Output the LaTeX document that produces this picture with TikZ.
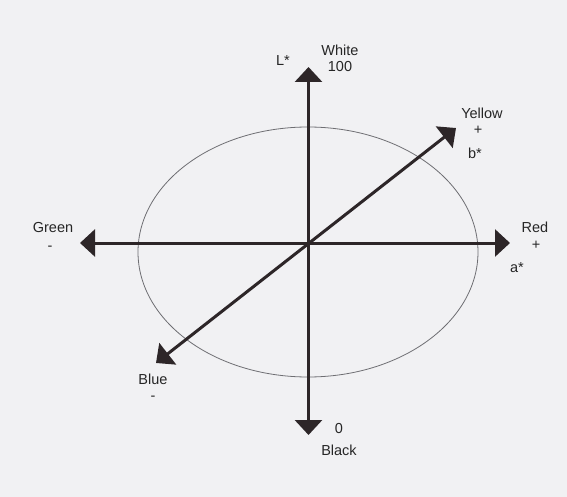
\documentclass[tikz,border=0pt]{standalone}
\usepackage{fontspec}
\setmainfont{Liberation Sans}
\usetikzlibrary{arrows.meta,shapes.geometric}
\definecolor{bgc}{HTML}{F1F1F3}
\definecolor{axc}{HTML}{2D2628}
\definecolor{elc}{HTML}{6E6E72}
\tikzset{
  axis/.style={draw=axc, line width=3pt, {Triangle[length=15pt,width=27pt]}-{Triangle[length=15pt,width=27pt]}},
  lab/.style={inner sep=0pt, text=black!85, font=\fontsize{14.5}{17}\selectfont},
  ring/.style={draw=elc, line width=0.8pt}
}
\begin{document}
\begin{tikzpicture}[x=1pt,y=-1pt]
\path[fill=bgc] (0,0) rectangle (567,497);
\useasboundingbox (0,0) rectangle (567,497);
% ellipse
\node[ring, ellipse, minimum width=340pt, minimum height=250pt, inner sep=0pt] (ring) at (308,252) {};
% axis ends
\coordinate (c) at (308.5,243);
\coordinate (top) at (308.5,67);
\coordinate (bot) at (308.5,435);
\coordinate (lft) at (80,243);
\coordinate (rgt) at (510,243);
\coordinate (yel) at (456,128);
\coordinate (blu) at (156,363);
\draw[axis] (bot) -- (top);
\draw[axis] (lft) -- (rgt);
\draw[axis] (blu) -- (yel);
% labels
\node[lab] (white) at (340,50) {White};
\node[lab] (hund) at (340,67) {100};
\node[lab] (lstar) at (283,61) {L*};
\node[lab] (yellow) at (482,113) {Yellow};
\node[lab] (yplus) at (478,130) {+};
\node[lab] (bstar) at (475,153) {b*};
\node[lab] (red) at (535,227) {Red};
\node[lab] (rplus) at (536,245) {+};
\node[lab] (astar) at (517,268) {a*};
\node[lab] (green) at (53,228) {Green};
\node[lab] (gminus) at (50,248) {-};
\node[lab] (blue) at (153,379) {Blue};
\node[lab] (bminus) at (153,398) {-};
\node[lab] (zero) at (339,429) {0};
\node[lab] (black) at (339,450) {Black};
\end{tikzpicture}
\end{document}
